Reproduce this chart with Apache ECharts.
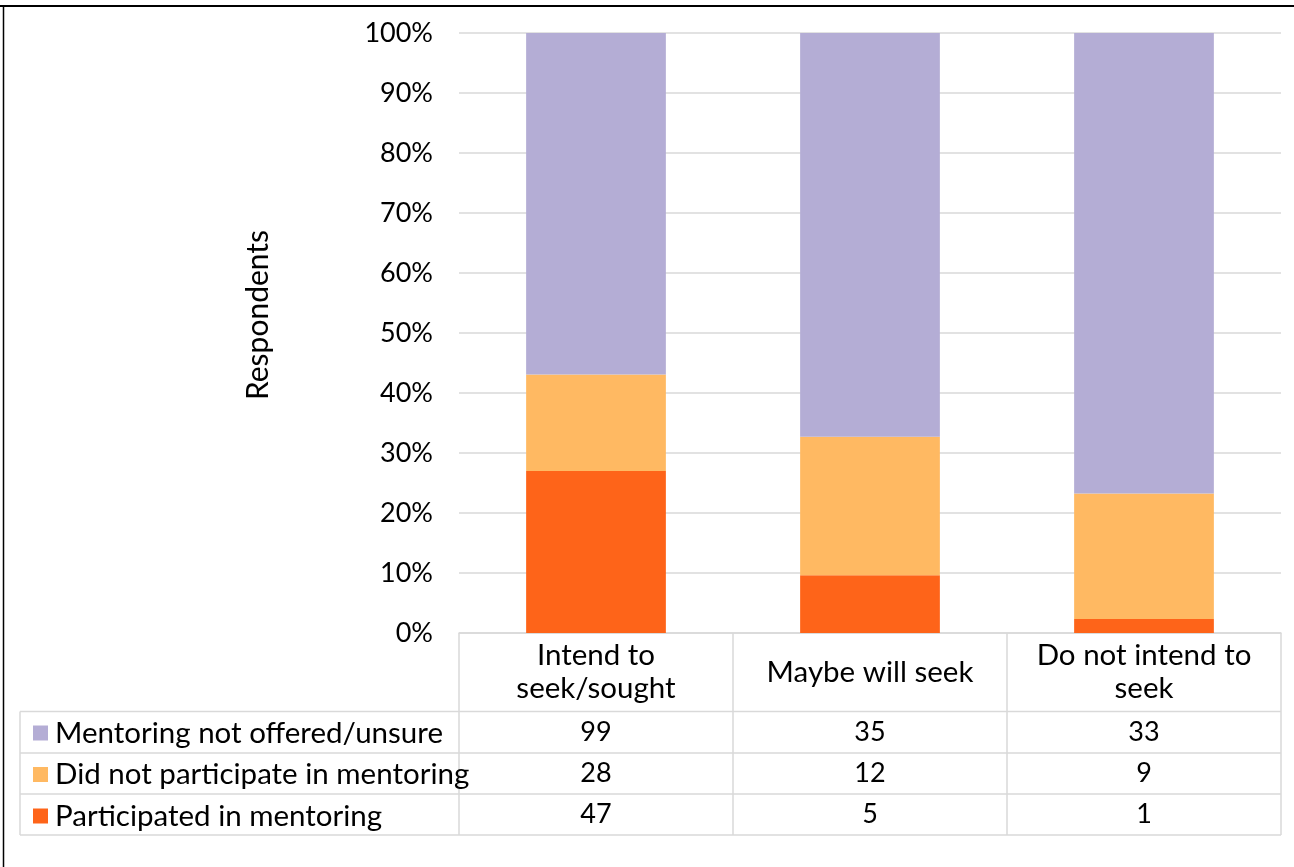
<!DOCTYPE html>
<html>
<head>
<meta charset="utf-8">
<script src="https://cdn.jsdelivr.net/npm/echarts@6/dist/echarts.min.js"></script>
<style>
html,body{margin:0;padding:0;background:#fff;}
#c{width:1294px;height:867px;}
</style>
</head>
<body>
<div id="c"></div>
<script>
var categories = ['Intend to\nseek/sought', 'Maybe will seek', 'Do not intend to\nseek'];
var seriesNames = ['Mentoring not offered/unsure', 'Did not participate in mentoring', 'Participated in mentoring'];
var notOffered = [99, 35, 33];
var didNotParticipate = [28, 12, 9];
var participated = [47, 5, 1];
var yTicks = ['0%','10%','20%','30%','40%','50%','60%','70%','80%','90%','100%'];
var colors = ['#B4ADD5', '#FFB962', '#FE6419'];

var totals = categories.map(function(_, i){ return notOffered[i] + didNotParticipate[i] + participated[i]; });
function pct(arr){ return arr.map(function(v, i){ return v / totals[i] * 100; }); }

var FONT = 'Lato';
var TXT = 29.5;
var chart = echarts.init(document.getElementById('c'));

var grid = {left: 459, right: 13, top: 33, bottom: 234};
var rowsForTable = [notOffered, didNotParticipate, participated];
var rowCenters = [732, 773.5, 814.5];
var axisY = 633;

var xAxes = [{
  type: 'category',
  data: categories,
  position: 'bottom',
  axisLine: {show: true, lineStyle: {color: '#D9D9D9', width: 1.5}},
  axisTick: {show: true, length: 202, inside: false, lineStyle: {color: '#D9D9D9', width: 1.5}},
  axisLabel: {color: '#000', fontFamily: FONT, fontSize: TXT, lineHeight: 33, margin: 39, interval: 0, verticalAlign: 'middle'},
  splitLine: {show: false}
}];
rowsForTable.forEach(function(row, k){
  xAxes.push({
    type: 'category',
    data: categories,
    position: 'bottom',
    offset: rowCenters[k] - axisY,
    axisLine: {show: false},
    axisTick: {show: false},
    splitLine: {show: false},
    axisLabel: {
      color: '#000', fontFamily: FONT, fontSize: 27, margin: 0, interval: 0, verticalAlign: 'middle',
      formatter: function(v, i){ return String(row[i]); }
    }
  });
});

var option = {
  animation: false,
  backgroundColor: '#fff',
  color: colors,
  grid: grid,
  legend: {
    orient: 'vertical',
    left: 28,
    top: 713,
    data: seriesNames,
    icon: 'rect',
    itemWidth: 15,
    itemHeight: 15,
    itemGap: 11.5,
    selectedMode: false,
    textStyle: {color: '#000', fontFamily: FONT, fontSize: TXT, lineHeight: 30, padding: [0,0,0,2]}
  },
  xAxis: xAxes,
  yAxis: {
    type: 'value',
    min: 0, max: 100, interval: 10,
    name: 'Respondents',
    nameLocation: 'middle',
    nameGap: 186,
    nameTextStyle: {color: '#000', fontFamily: FONT, fontSize: 30, padding: [0,0,0,36]},
    axisLine: {show: false},
    axisTick: {show: false},
    axisLabel: {color: '#000', fontFamily: FONT, fontSize: 27, margin: 26,
      formatter: function(v){ return yTicks[Math.round(v/10)]; }},
    splitLine: {lineStyle: {color: '#D9D9D9', width: 1.5}}
  },
  series: [
    {name: seriesNames[2], type: 'bar', stack: 's', data: pct(participated), barWidth: '51%', itemStyle: {color: colors[2]}},
    {name: seriesNames[1], type: 'bar', stack: 's', data: pct(didNotParticipate), itemStyle: {color: colors[1]}},
    {name: seriesNames[0], type: 'bar', stack: 's', data: pct(notOffered), itemStyle: {color: colors[0]}}
  ],
  graphic: [
    {type: 'line', shape: {x1: 0, y1: 6, x2: 1294, y2: 6}, style: {stroke: '#000', lineWidth: 2}},
    {type: 'line', shape: {x1: 3.5, y1: 6, x2: 3.5, y2: 867}, style: {stroke: '#000', lineWidth: 1.5}},
    {type: 'line', shape: {x1: 20, y1: 711.5, x2: 1281, y2: 711.5}, style: {stroke: '#D9D9D9', lineWidth: 1.5}},
    {type: 'line', shape: {x1: 20, y1: 753, x2: 1281, y2: 753}, style: {stroke: '#D9D9D9', lineWidth: 1.5}},
    {type: 'line', shape: {x1: 20, y1: 794, x2: 1281, y2: 794}, style: {stroke: '#D9D9D9', lineWidth: 1.5}},
    {type: 'line', shape: {x1: 20, y1: 835, x2: 1281, y2: 835}, style: {stroke: '#D9D9D9', lineWidth: 1.5}},
    {type: 'line', shape: {x1: 20, y1: 711.5, x2: 20, y2: 835}, style: {stroke: '#D9D9D9', lineWidth: 1.5}}
  ]
};
chart.setOption(option);
</script>
</body>
</html>
